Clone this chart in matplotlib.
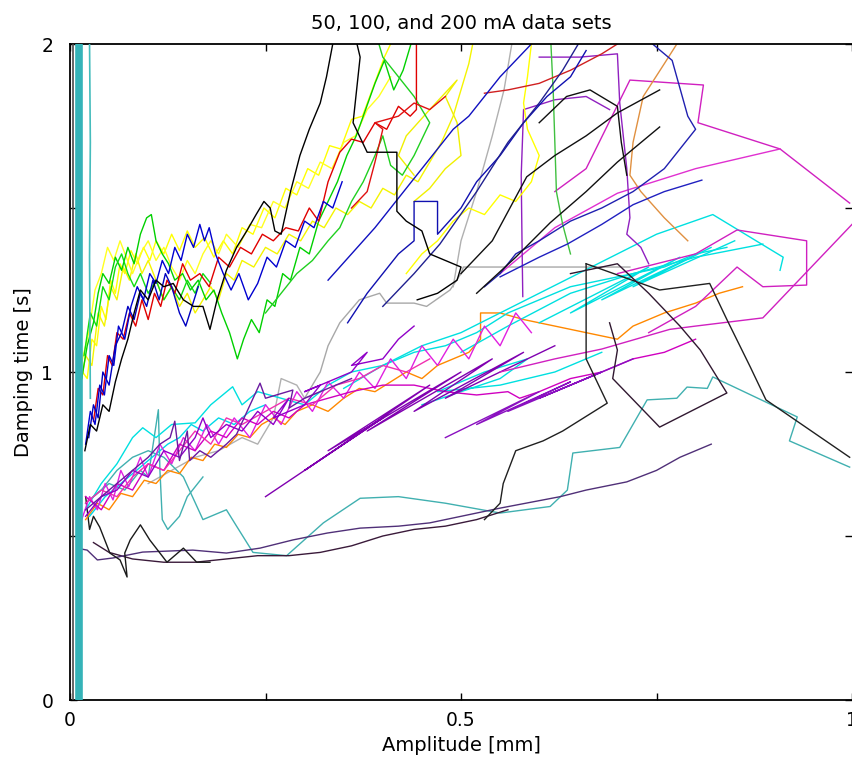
import matplotlib
matplotlib.use("Agg")
import matplotlib.pyplot as plt

# amplitude [mm], damping time [s]

# vertical traces hugging the y axis
edge_dark = [(0.004, 0.0), (0.004, 2.0)]
edge_band = [(0.011, 0.0), (0.011, 2.0)]
edge_thin = [(0.026, 0.92), (0.025, 1.35), (0.026, 1.7), (0.025, 2.0)]

# upper cluster
a_yellow1 = [(0.010,0.92),(0.016,1.00),(0.022,0.98),(0.028,1.10),(0.034,1.08),(0.040,1.20),(0.046,1.16),
             (0.052,1.28),(0.058,1.24),(0.064,1.33),(0.070,1.30),(0.078,1.37),(0.086,1.33),(0.094,1.38),
             (0.102,1.34),(0.110,1.40),(0.120,1.36),(0.130,1.42),(0.140,1.37),(0.150,1.43),(0.160,1.38),
             (0.172,1.41),(0.184,1.35),(0.196,1.40),(0.208,1.36),(0.220,1.44),(0.234,1.42),(0.248,1.50),
             (0.262,1.47),(0.276,1.56),(0.290,1.54),(0.304,1.62),(0.318,1.60),(0.332,1.69),(0.346,1.68),
             (0.360,1.77),(0.374,1.78),(0.388,1.87),(0.402,1.96),(0.410,2.0)]
a_yellow2 = [(0.012,0.94),(0.020,1.05),(0.028,1.02),(0.036,1.18),(0.044,1.14),(0.052,1.26),(0.060,1.22),
             (0.068,1.32),(0.076,1.28),(0.084,1.36),(0.092,1.30),(0.100,1.34),(0.110,1.28),(0.120,1.22),
             (0.130,1.26),(0.140,1.20),(0.150,1.24),(0.160,1.18),(0.170,1.22),(0.180,1.26),(0.190,1.22),
             (0.200,1.30),(0.210,1.28),(0.220,1.34),(0.235,1.32),(0.250,1.38),(0.265,1.36),(0.280,1.42),
             (0.295,1.40),(0.310,1.46),(0.325,1.44),(0.340,1.50),(0.355,1.48),(0.370,1.52),(0.385,1.50),
             (0.400,1.56),(0.415,1.54),(0.430,1.60),(0.445,1.58),(0.460,1.64),(0.475,1.70),(0.490,1.78),
             (0.500,1.86),(0.510,1.94),(0.515,2.0)]
a_yellow3 = [(0.43,1.30),(0.45,1.36),(0.47,1.40),(0.49,1.46),(0.51,1.50),(0.53,1.48),(0.55,1.54),
             (0.57,1.52),(0.59,1.58),(0.60,1.66),(0.585,1.74),(0.58,1.82),(0.585,1.90),(0.59,2.0)]
a_yellow4 = [(0.44,1.52),(0.46,1.56),(0.48,1.62),(0.50,1.66),(0.495,1.76),(0.48,1.84),(0.495,1.89),
             (0.46,1.80),(0.43,1.72),(0.42,1.66),(0.44,1.60)]
a_yellow5 = [(0.014,1.02),(0.024,1.12),(0.032,1.25),(0.040,1.30),(0.048,1.38),(0.056,1.34),(0.064,1.40),
             (0.072,1.35),(0.080,1.30),(0.090,1.36),(0.100,1.40),(0.110,1.34),(0.120,1.38),(0.130,1.32),
             (0.140,1.28),(0.150,1.34),(0.160,1.30),(0.170,1.36),(0.180,1.40),(0.190,1.36),(0.200,1.42),
             (0.215,1.38),(0.230,1.45),(0.245,1.44),(0.260,1.52),(0.275,1.50),(0.290,1.58),(0.305,1.56),
             (0.320,1.64),(0.335,1.62),(0.350,1.70),(0.365,1.72),(0.380,1.80),(0.395,1.84),(0.410,1.90)]
a_green1 = [(0.015,0.98),(0.022,1.08),(0.030,1.15),(0.036,1.24),(0.042,1.30),(0.050,1.27),(0.058,1.35),
            (0.066,1.31),(0.074,1.38),(0.082,1.33),(0.090,1.42),(0.098,1.47),(0.104,1.48),(0.110,1.40),
            (0.118,1.36),(0.126,1.33),(0.134,1.28),(0.144,1.30),(0.154,1.25),(0.164,1.28),(0.174,1.22),
            (0.184,1.25),(0.194,1.18),(0.204,1.12),(0.214,1.04),(0.222,1.10),(0.232,1.16),(0.242,1.12),
            (0.252,1.22),(0.262,1.20),(0.272,1.30),(0.282,1.28),(0.294,1.38),(0.306,1.36),(0.318,1.46),
            (0.330,1.52),(0.342,1.58),(0.354,1.66),(0.366,1.72),(0.378,1.80),(0.390,1.88),(0.402,1.95),
            (0.414,1.86),(0.426,1.92),(0.436,2.0)]
a_green2 = [(0.25,1.18),(0.27,1.24),(0.29,1.30),(0.31,1.34),(0.33,1.40),(0.345,1.44),(0.36,1.52),
            (0.375,1.58),(0.39,1.66),(0.40,1.72),(0.41,1.63),(0.425,1.60),(0.44,1.66),(0.46,1.76),
            (0.44,1.84),(0.42,1.90),(0.40,1.96),(0.395,2.0)]
a_green3 = [(0.615,2.0),(0.618,1.85),(0.62,1.70),(0.622,1.55),(0.63,1.45),(0.64,1.36)]
a_green4 = [(0.018,1.05),(0.026,1.18),(0.034,1.14),(0.042,1.26),(0.050,1.22),(0.058,1.32),(0.066,1.36),
            (0.074,1.30),(0.082,1.26),(0.090,1.30),(0.100,1.24),(0.110,1.28),(0.120,1.22),(0.130,1.26),
            (0.140,1.22),(0.150,1.28),(0.160,1.24),(0.170,1.30),(0.180,1.27)]
a_red1 = [(0.030,0.85),(0.036,0.95),(0.042,0.93),(0.048,1.05),(0.054,1.02),(0.060,1.12),(0.068,1.10),
          (0.076,1.18),(0.084,1.14),(0.092,1.22),(0.100,1.16),(0.108,1.24),(0.116,1.20),(0.124,1.28),
          (0.134,1.24),(0.144,1.33),(0.154,1.28),(0.166,1.30),(0.178,1.26),(0.190,1.35),(0.204,1.32),
          (0.218,1.38),(0.232,1.36),(0.246,1.42),(0.260,1.40),(0.276,1.44),(0.292,1.43),(0.306,1.50),
          (0.318,1.46),(0.330,1.58),(0.345,1.67),(0.360,1.71),(0.375,1.70),(0.390,1.76),(0.405,1.74),
          (0.420,1.81),(0.435,1.78),(0.443,1.80),(0.443,2.0)]
a_red2 = [(0.36,1.50),(0.38,1.55),(0.39,1.64),(0.40,1.74),(0.39,1.76),(0.42,1.78),(0.44,1.82),
          (0.46,1.80),(0.48,1.84)]
a_red3 = [(0.53,1.85),(0.56,1.86),(0.60,1.88),(0.64,1.92),(0.68,1.97),(0.70,2.0)]
a_blue1 = [(0.020,0.78),(0.026,0.88),(0.032,0.84),(0.038,0.96),(0.044,0.93),(0.050,1.05),(0.056,1.02),
           (0.062,1.14),(0.070,1.10),(0.078,1.20),(0.086,1.26),(0.094,1.22),(0.102,1.30),(0.110,1.27),
           (0.118,1.34),(0.126,1.30),(0.134,1.38),(0.142,1.34),(0.150,1.42),(0.158,1.38),(0.166,1.45),
           (0.172,1.40),(0.178,1.44),(0.186,1.36),(0.196,1.30),(0.206,1.25),(0.216,1.30),(0.228,1.22),
           (0.240,1.27),(0.252,1.35),(0.264,1.32),(0.276,1.40),(0.288,1.38),(0.300,1.46),(0.312,1.44),
           (0.324,1.52),(0.336,1.50),(0.348,1.58)]
a_blue2 = [(0.024,0.80),(0.030,0.90),(0.036,0.86),(0.042,1.00),(0.050,0.96),(0.058,1.08),(0.066,1.12),
           (0.074,1.20),(0.082,1.16),(0.090,1.24),(0.098,1.20),(0.106,1.28),(0.114,1.22),(0.122,1.30),
           (0.130,1.26),(0.140,1.18),(0.148,1.14),(0.156,1.20),(0.164,1.26)]
a_blue3 = [(0.33,1.28),(0.36,1.36),(0.39,1.44),(0.41,1.50),(0.43,1.56),(0.45,1.62),(0.47,1.68),
           (0.49,1.74),(0.51,1.78),(0.53,1.84),(0.55,1.90),(0.57,1.95),(0.59,2.0)]
a_blue4 = [(0.355,1.15),(0.38,1.24),(0.40,1.30),(0.42,1.36),(0.44,1.40),(0.44,1.52),(0.47,1.52),
           (0.47,1.42),(0.50,1.50),(0.52,1.58),(0.55,1.66),(0.58,1.76),(0.61,1.84),(0.64,1.90),(0.66,1.98)]
a_blue5 = [(0.745,2.0),(0.77,1.95),(0.79,1.78),(0.80,1.74),(0.76,1.62),(0.72,1.55),(0.68,1.50),
           (0.64,1.46),(0.60,1.40),(0.57,1.36),(0.55,1.30),(0.53,1.26)]
a_blue6 = [(0.55,1.29),(0.60,1.35),(0.636,1.39),(0.68,1.45),(0.72,1.51),(0.76,1.55),(0.808,1.585)]
a_navy = [(0.40,1.20),(0.44,1.30),(0.473,1.39),(0.52,1.55),(0.56,1.70),(0.60,1.82),(0.63,1.92),(0.65,2.0)]
a_black1 = [(0.019,0.76),(0.026,0.84),(0.034,0.82),(0.042,0.90),(0.050,0.88),(0.058,0.97),(0.066,1.04),
            (0.074,1.10),(0.082,1.18),(0.090,1.25),(0.100,1.22),(0.110,1.28),(0.120,1.26),(0.132,1.27),
            (0.145,1.22),(0.158,1.20),(0.170,1.20),(0.179,1.13),(0.188,1.22),(0.200,1.31),(0.213,1.38),
            (0.226,1.43),(0.238,1.48),(0.248,1.52),(0.256,1.50),(0.262,1.43),(0.270,1.42),(0.282,1.55),
            (0.294,1.66),(0.306,1.74),(0.320,1.82),(0.328,1.90),(0.336,2.0)]
a_black2 = [(0.367,2.0),(0.371,1.96),(0.362,1.76),(0.372,1.71),(0.380,1.67),(0.418,1.67),(0.418,1.49),
            (0.430,1.46),(0.450,1.43),(0.460,1.36),(0.500,1.32),(0.495,1.28),(0.470,1.24),(0.444,1.22)]
a_black3 = [(0.50,1.30),(0.54,1.40),(0.584,1.595),(0.62,1.66),(0.66,1.72),(0.70,1.79),(0.754,1.86)]
a_black4 = [(0.52,1.24),(0.57,1.35),(0.614,1.455),(0.66,1.55),(0.70,1.64),(0.754,1.747)]
a_black5 = [(0.60,1.76),(0.635,1.84),(0.665,1.86),(0.70,1.81),(0.705,1.70),(0.712,1.60)]

# middle cluster
b_magenta1 = [(0.015,0.55),(0.025,0.62),(0.035,0.58),(0.045,0.66),(0.055,0.61),(0.065,0.70),(0.075,0.65),
              (0.090,0.74),(0.100,0.68),(0.115,0.78),(0.130,0.72),(0.145,0.80),(0.160,0.76),(0.175,0.84),
              (0.190,0.78),(0.210,0.86),(0.230,0.80),(0.250,0.90),(0.270,0.84),(0.290,0.94),(0.310,0.88),
              (0.330,0.97),(0.350,0.92),(0.370,1.00),(0.390,0.95),(0.410,1.04),(0.430,0.98),(0.450,1.08),
              (0.470,1.02),(0.490,1.10),(0.510,1.04),(0.530,1.14),(0.550,1.08),(0.570,1.18),(0.590,1.12)]
b_magenta2 = [(0.02,0.62),(0.04,0.58),(0.06,0.66),(0.08,0.64),(0.10,0.72),(0.12,0.70),(0.14,0.78),
              (0.16,0.76),(0.18,0.82),(0.20,0.80),(0.22,0.86),(0.24,0.84),(0.26,0.88),(0.28,0.86),
              (0.30,0.90),(0.33,0.92),(0.36,0.94),(0.40,0.96),(0.44,0.96),(0.48,0.94),(0.52,0.93),
              (0.56,0.94),(0.575,0.92),(0.60,0.94),(0.64,0.98),(0.68,1.00),(0.72,1.04),(0.76,1.06),(0.80,1.10)]
b_pink = [(0.02,0.60),(0.04,0.64),(0.06,0.62),(0.08,0.68),(0.10,0.72),(0.12,0.70),(0.14,0.76),
          (0.16,0.82),(0.18,0.78),(0.20,0.86),(0.22,0.84),(0.25,0.88),(0.28,0.92),(0.31,0.90),
          (0.34,0.96),(0.37,0.98),(0.40,1.02),(0.43,1.00),(0.46,1.04)]
b_purple1 = [(0.02,0.56),(0.04,0.62),(0.06,0.64),(0.08,0.70),(0.10,0.68),(0.12,0.76),(0.14,0.74),
             (0.16,0.80),(0.17,0.86),(0.18,0.80),(0.20,0.84),(0.22,0.82),(0.24,0.88),(0.26,0.84),
             (0.28,0.92),(0.26,0.86),(0.30,0.90),(0.32,0.96),(0.30,0.94),(0.34,0.98),(0.36,1.00),
             (0.38,1.06),(0.36,1.02),(0.40,1.04),(0.42,1.10),(0.44,1.14)]
b_purple2 = [(0.25,0.62),(0.40,0.86),(0.30,0.70),(0.46,0.96),(0.33,0.76),(0.50,1.00),(0.38,0.82),
             (0.54,1.04),(0.44,0.88),(0.58,1.06),(0.48,0.92),(0.62,1.08)]
b_purple3 = [(0.48,0.80),(0.60,0.94),(0.52,0.84),(0.64,0.97),(0.56,0.88),(0.68,1.00),(0.60,0.92),(0.72,1.04)]
b_violet = [(0.02,0.58),(0.04,0.62),(0.06,0.66),(0.08,0.70),(0.10,0.74),(0.115,0.78),(0.128,0.80),
            (0.134,0.85),(0.14,0.73),(0.15,0.82),(0.153,0.73),(0.166,0.76),(0.18,0.74),(0.20,0.78),
            (0.213,0.81),(0.243,0.966),(0.25,0.92),(0.285,0.945),(0.28,0.89),(0.30,0.92),(0.33,0.95),(0.36,0.98)]
b_cyan1 = [(0.02,0.58),(0.04,0.66),(0.06,0.72),(0.08,0.80),(0.093,0.83),(0.11,0.80),(0.13,0.84),
           (0.16,0.845),(0.18,0.90),(0.208,0.955),(0.22,0.90),(0.24,0.94),(0.27,0.92),(0.30,0.90),
           (0.33,0.96),(0.36,1.00),(0.40,1.02),(0.44,1.06),(0.48,1.08),(0.52,1.12),(0.56,1.18),
           (0.60,1.22),(0.64,1.26),(0.68,1.28),(0.72,1.30),(0.76,1.32),(0.80,1.36),(0.84,1.38)]
b_cyan2 = [(0.35,0.95),(0.40,1.02),(0.45,1.08),(0.50,1.12),(0.55,1.18),(0.60,1.24),(0.65,1.30),
           (0.70,1.36),(0.75,1.42),(0.822,1.48),(0.912,1.35),(0.908,1.31)]
b_cyan3 = [(0.45,0.90),(0.50,0.94),(0.55,0.98),(0.585,1.04),(0.53,1.00),(0.47,0.94),(0.55,0.96),
           (0.62,1.00),(0.68,1.06)]
b_cyan4 = [(0.50,1.06),(0.56,1.14),(0.64,1.24),(0.72,1.30),(0.80,1.35),(0.886,1.39)]
b_cyan5 = [(0.60,1.15),(0.74,1.32),(0.64,1.18),(0.78,1.35),(0.68,1.22),(0.82,1.38),(0.72,1.26),(0.85,1.40)]
b_cyan6 = [(0.025,0.56),(0.045,0.62),(0.065,0.66),(0.085,0.70),(0.105,0.74),(0.125,0.78),(0.140,0.80),
           (0.155,0.84),(0.170,0.82),(0.190,0.86),(0.210,0.84),(0.230,0.88),(0.250,0.90)]
b_orange = [(0.02,0.55),(0.035,0.60),(0.05,0.58),(0.065,0.63),(0.08,0.62),(0.095,0.67),(0.11,0.66),
            (0.125,0.70),(0.14,0.69),(0.155,0.74),(0.17,0.73),(0.185,0.78),(0.20,0.77),(0.215,0.81),
            (0.23,0.80),(0.245,0.84),(0.26,0.86),(0.275,0.84),(0.29,0.88),(0.31,0.90),(0.33,0.88),
            (0.35,0.92),(0.37,0.95),(0.39,0.94),(0.41,0.97),(0.43,1.00),(0.45,0.98),(0.47,1.02),
            (0.49,1.04),(0.51,1.06),(0.525,1.10),(0.525,1.18),(0.55,1.18),(0.58,1.16),(0.62,1.14),
            (0.66,1.12),(0.70,1.10),(0.72,1.14),(0.76,1.18),(0.80,1.21),(0.83,1.24),(0.86,1.26)]
b_gray1 = [(0.10,0.66),(0.13,0.70),(0.16,0.74),(0.19,0.76),(0.22,0.80),(0.24,0.78),(0.26,0.86),
           (0.27,0.98),(0.29,0.96),(0.30,0.92),(0.32,0.94)]
b_gray2 = [(0.30,0.92),(0.32,1.00),(0.33,1.08),(0.345,1.15),(0.37,1.22),(0.396,1.24),(0.405,1.21),
           (0.44,1.21),(0.456,1.20),(0.486,1.25),(0.50,1.30),(0.503,1.32),(0.55,1.32),(0.60,1.32),
           (0.65,1.32),(0.716,1.32)]
b_gray3 = [(0.49,1.26),(0.50,1.40),(0.52,1.55),(0.54,1.72),(0.555,1.86),(0.565,2.0)]

# upper right
r_magenta1 = [(0.62,1.55),(0.66,1.62),(0.716,1.89),(0.81,1.875),(0.803,1.76),(0.908,1.68),(0.997,1.515)]
r_magenta2 = [(0.55,1.30),(0.62,1.44),(0.70,1.545),(0.80,1.62),(0.908,1.68)]
r_magenta3 = [(1.0,1.45),(0.886,1.165),(0.80,1.14),(0.767,1.13),(0.68,1.07),(0.62,1.04),(0.55,1.00)]
r_magenta4 = [(0.70,1.30),(0.80,1.36),(0.853,1.433),(0.942,1.40),(0.942,1.265),(0.886,1.26),
              (0.853,1.32),(0.80,1.20),(0.74,1.12)]
r_purple1 = [(0.60,1.96),(0.652,1.96),(0.70,1.97),(0.703,1.82),(0.712,1.62),(0.716,1.47),(0.712,1.42),
             (0.73,1.38),(0.74,1.33)]
r_purple2 = [(0.579,1.23),(0.578,1.40),(0.577,1.60),(0.58,1.80),(0.62,1.83),(0.66,1.84),(0.69,1.80)]
r_orange = [(0.776,2.0),(0.76,1.94),(0.733,1.84),(0.72,1.70),(0.716,1.60),(0.73,1.55),(0.76,1.47),(0.79,1.40)]
r_black1 = [(0.66,1.33),(0.754,1.25),(0.818,1.27),(0.84,1.16),(0.87,1.015),(0.89,0.915),(0.997,0.74)]
r_black2 = [(0.64,1.30),(0.70,1.33),(0.74,1.24),(0.78,1.14),(0.806,1.067),(0.84,0.936),(0.754,0.832),
            (0.694,0.98),(0.70,1.067),(0.69,1.15)]
r_black3 = [(0.66,1.33),(0.66,1.18),(0.66,1.04),(0.687,0.905),(0.63,0.82),(0.605,0.79),(0.57,0.76),
            (0.554,0.66),(0.55,0.60),(0.53,0.55)]

# lower traces
l_violet = [(0.015,0.46),(0.022,0.457),(0.035,0.427),(0.055,0.433),(0.093,0.451),(0.157,0.457),
            (0.20,0.448),(0.243,0.463),(0.285,0.488),(0.329,0.509),(0.371,0.524),(0.42,0.53),
            (0.46,0.54),(0.50,0.56),(0.55,0.585),(0.627,0.62),(0.66,0.64),(0.712,0.665),(0.75,0.70),
            (0.78,0.74),(0.82,0.78)]
l_dark = [(0.03,0.48),(0.05,0.45),(0.08,0.43),(0.12,0.42),(0.16,0.42),(0.20,0.43),(0.24,0.44),
          (0.28,0.44),(0.32,0.45),(0.36,0.47),(0.40,0.50),(0.44,0.52),(0.48,0.53),(0.52,0.55),(0.56,0.58)]
l_black = [(0.02,0.62),(0.025,0.52),(0.03,0.56),(0.038,0.527),(0.051,0.448),(0.064,0.427),(0.073,0.375),
           (0.07,0.448),(0.077,0.488),(0.09,0.534),(0.102,0.488),(0.115,0.448),(0.124,0.42),(0.145,0.463),
           (0.162,0.42),(0.179,0.42)]
l_teal = [(0.02,0.60),(0.04,0.64),(0.06,0.70),(0.08,0.74),(0.10,0.76),(0.12,0.74),(0.145,0.68),
          (0.17,0.55),(0.20,0.58),(0.213,0.53),(0.234,0.45),(0.277,0.44),(0.324,0.54),(0.371,0.615),
          (0.42,0.62),(0.48,0.60),(0.55,0.57),(0.614,0.59),(0.636,0.64),(0.643,0.753),(0.703,0.77),
          (0.738,0.915),(0.776,0.92),(0.789,0.954),(0.815,0.95),(0.822,0.985),(0.93,0.863),(0.92,0.79),
          (0.997,0.71)]
l_teal2 = [(0.03,0.62),(0.05,0.66),(0.07,0.64),(0.09,0.70),(0.10,0.68),(0.113,0.885),(0.115,0.70),
           (0.118,0.55),(0.125,0.52),(0.14,0.56),(0.15,0.62),(0.17,0.68)]

traces = [
    (b_gray1, "#b0b0b0"), (b_gray2, "#a8a8a8"), (b_gray3, "#b0b0b0"),
    (l_teal, "#40b0b0"), (l_teal2, "#40b0b0"), (l_dark, "#3a1a3a"), (l_violet, "#503078"), (l_black, "#1a1a1a"),
    (b_orange, "#ff8800"), (b_cyan1, "#00e0e0"), (b_cyan2, "#00e0e0"), (b_cyan3, "#00e0e0"),
    (b_cyan4, "#00e0e0"), (b_cyan5, "#00e0e0"), (b_cyan6, "#00d8e8"),
    (b_magenta1, "#e020e0"), (b_magenta2, "#d000c0"), (b_pink, "#f030b0"), (b_purple1, "#9000c8"),
    (b_purple2, "#8000b0"), (b_purple3, "#8a10c0"), (b_violet, "#6a1aa0"),
    (r_magenta1, "#d020c0"), (r_magenta2, "#e030d0"), (r_magenta3, "#d020c0"), (r_magenta4, "#d020c0"),
    (r_purple1, "#9020c0"), (r_purple2, "#9020c0"), (r_orange, "#e09040"),
    (r_black1, "#202020"), (r_black2, "#301830"), (r_black3, "#202020"),
    (a_yellow1, "#ffff00"), (a_yellow2, "#f4f400"), (a_yellow3, "#ffff00"), (a_yellow4, "#f0f000"),
    (a_yellow5, "#ffff20"),
    (a_green1, "#00d000"), (a_green2, "#20d020"), (a_green3, "#40c040"), (a_green4, "#10dd10"),
    (a_red1, "#e00000"), (a_red2, "#e01010"), (a_red3, "#d02020"),
    (a_blue1, "#0000d0"), (a_blue2, "#0000c0"), (a_blue3, "#1010c0"), (a_blue4, "#1010b0"),
    (a_blue5, "#2020b0"), (a_blue6, "#2020c0"), (a_navy, "#202090"),
    (a_black1, "#000000"), (a_black2, "#000000"), (a_black3, "#101010"), (a_black4, "#101010"),
    (a_black5, "#101010"),
]

plt.rcParams["font.family"] = ["DejaVu Sans"]

fig = plt.figure(figsize=(8.52, 7.68), dpi=100)
ax = fig.add_axes([70 / 852, 68 / 768, 782 / 852, 656 / 768])

for pts, color in traces:
    ax.plot([p[0] for p in pts], [p[1] for p in pts], color=color, lw=1.0)

ax.plot([p[0] for p in edge_dark], [p[1] for p in edge_dark], color="#4a4a4a", lw=1.2, zorder=4)
ax.plot([p[0] for p in edge_band], [p[1] for p in edge_band], color="#35b3b8", lw=5.5, zorder=4)
ax.plot([p[0] for p in edge_thin], [p[1] for p in edge_thin], color="#45bcbc", lw=1.2, zorder=4)

ax.set_xlim(0, 1)
ax.set_ylim(0, 2)
ax.set_xticks([0, 0.25, 0.5, 0.75, 1])
ax.set_xticklabels(["0", "", "0.5", "", "1"])
ax.set_yticks([0, 0.5, 1, 1.5, 2])
ax.set_yticklabels(["0", "", "1", "", "2"])
ax.tick_params(direction="in", length=5, width=1, top=True, right=True, labelsize=13.5)
ax.tick_params(axis="y", pad=12)
ax.tick_params(axis="x", pad=8)
for s in ax.spines.values():
    s.set_linewidth(1.3)
ax.spines["right"].set_visible(False)

ax.set_title("50, 100, and 200 mA data sets", fontsize=14, pad=11)
ax.set_xlabel("Amplitude [mm]", fontsize=14, labelpad=4)
ax.set_ylabel("Damping time [s]", fontsize=14, labelpad=6)

fig.savefig("out.png", dpi=100)
